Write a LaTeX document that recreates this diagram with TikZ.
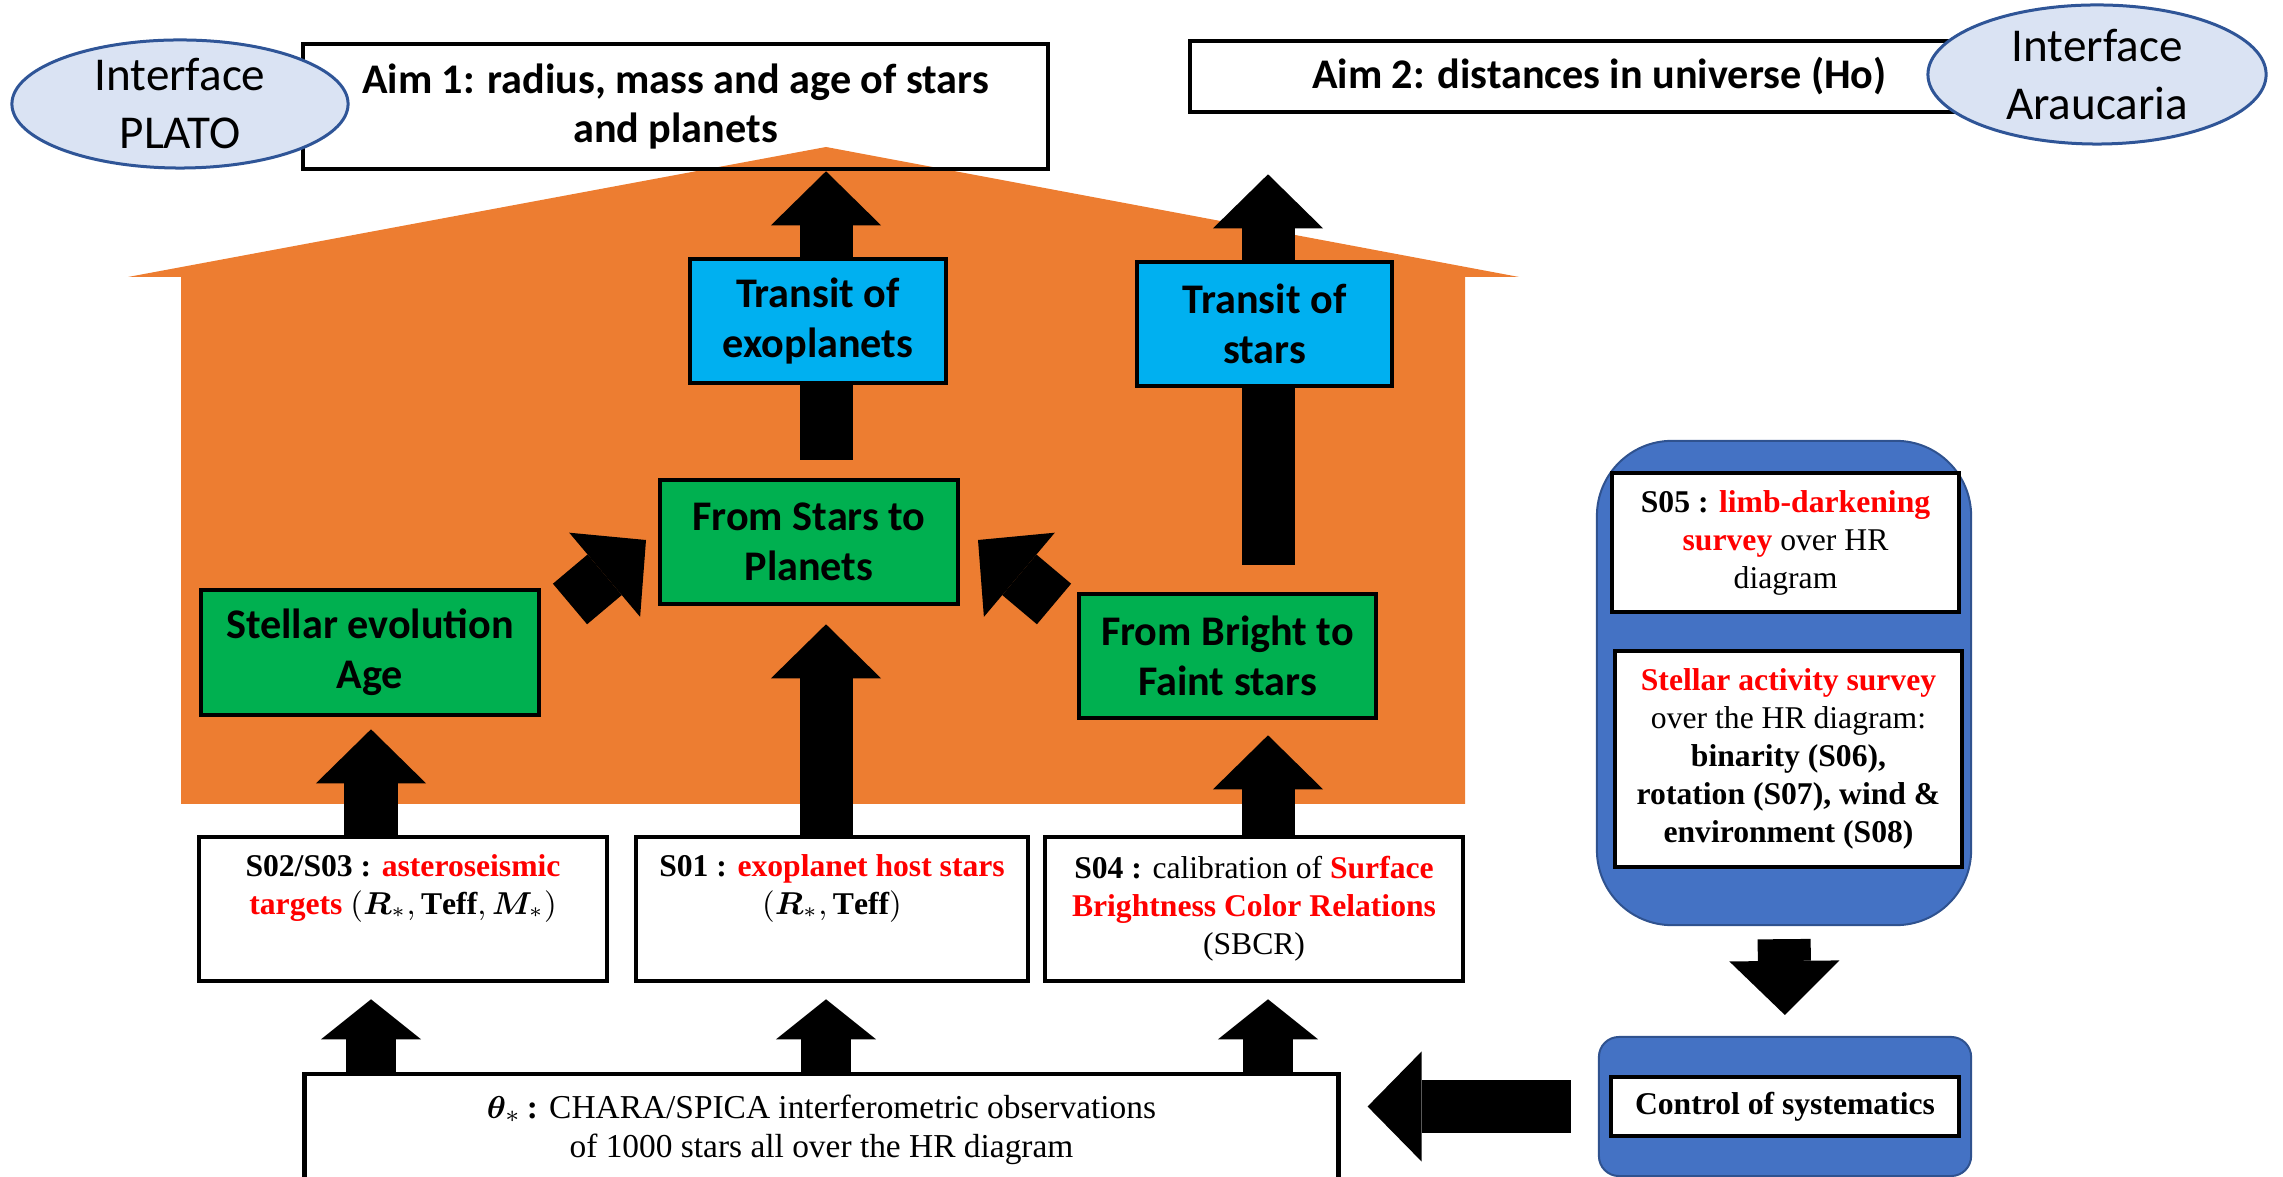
\documentclass[tikz,border=0pt]{standalone}
\usepackage{fontspec}
\setmainfont{Liberation Serif}
\newfontfamily\calibri{Carlito}
\usepackage{bm}
\usepackage{xcolor}
\usetikzlibrary{arrows.meta,shapes.geometric,positioning,calc}

\definecolor{roof}{HTML}{ED7D31}
\definecolor{stepgreen}{HTML}{00B050}
\definecolor{transcyan}{HTML}{00B0F0}
\definecolor{sysfill}{HTML}{4472C4}
\definecolor{sysline}{HTML}{2F528F}
\definecolor{ifacefill}{HTML}{DAE3F3}
\definecolor{ifaceline}{HTML}{2F5597}

\newcommand{\redb}[1]{\textcolor{red}{\textbf{#1}}}

\pgfdeclarelayer{house}
\pgfdeclarelayer{arrows}
\pgfsetlayers{house,arrows,main}

\begin{document}
\begin{tikzpicture}[
  x=0.01cm, y=-0.01cm,
  aimbox/.style={draw, line width=0.045cm, inner sep=0pt, align=center,
                 font=\calibri\bfseries\fontsize{12}{14.2}\selectfont},
  greenbox/.style={aimbox, fill=stepgreen},
  cyanbox/.style={aimbox, fill=transcyan},
  whitebox/.style={draw, fill=white, line width=0.045cm, inner sep=0pt, align=center,
                   font=\fontsize{9}{10.8}\selectfont},
  iface/.style={ellipse, draw=ifaceline, line width=0.03cm, fill=ifacefill, inner sep=0pt},
  ifacetext/.style={align=center, font=\calibri\fontsize{13.4}{16.5}\selectfont},
  blockarr/.style={line width=0.53cm, -{Triangle[length=0.54cm, width=1.1cm, line width=0pt]}},
  lowarr/.style={line width=0.5cm, -{Triangle[length=0.4cm, width=1.0cm, line width=0pt]}}
]
  \useasboundingbox (0,0) rectangle (2283,1177);

  % aims and interfaces
  \node[aimbox, minimum width=7.45cm, minimum height=1.25cm] (aim1) at (675.5,106.5)
    {Aim 1: radius, mass and age of stars\\and planets};
  \node[aimbox, fill=white, minimum width=7.68cm, minimum height=0.71cm] (aim2) at (1574,76.5)
    {\hspace*{0.5cm}Aim 2: distances in universe (Ho)};
  \node[iface, minimum width=3.36cm, minimum height=1.28cm] (plato) at (180,104) {};
  \node[ifacetext] (platotxt) at (plato) {Interface\\PLATO};
  \node[iface, minimum width=3.38cm, minimum height=1.39cm] (arauc) at (2097,74.5) {};
  \node[ifacetext] (arauctxt) at (arauc) {Interface\\Araucaria};

  % inside the house
  \node[cyanbox, minimum width=2.56cm, minimum height=1.24cm] (transexo) at (818,321)
    {Transit of\\exoplanets};
  \node[cyanbox, minimum width=2.55cm, minimum height=1.24cm] (transst) at (1264.5,324)
    {Transit of\\stars};
  \node[greenbox, minimum width=2.98cm, minimum height=1.24cm] (stars) at (809,542)
    {From Stars to\\Planets};
  \node[greenbox, minimum width=3.38cm, minimum height=1.25cm] (stellar) at (370,652.5)
    {Stellar evolution\\Age};
  \node[greenbox, minimum width=2.97cm, minimum height=1.24cm] (bright) at (1227.5,656)
    {From Bright to\\Faint stars};

  % samples
  \node[whitebox, minimum width=4.08cm, minimum height=1.44cm] (s23) at (403,909)
    {\textbf{S02/S03 :} \redb{asteroseismic}\\\redb{targets} $(\bm{R}_{*}, \mathbf{Teff}, \bm{M}_{*})$\\\strut};
  \node[whitebox, minimum width=3.92cm, minimum height=1.44cm] (s01) at (832,909)
    {\textbf{S01 :} \redb{exoplanet host stars}\\$(\bm{R}_{*}, \mathbf{Teff})$\\\strut};
  \node[whitebox, minimum width=4.18cm, minimum height=1.44cm] (s04) at (1254,909)
    {\textbf{S04 :} calibration of \redb{Surface}\\\redb{Brightness Color Relations}\\(SBCR)};
  \node[whitebox, minimum width=10.33cm, minimum height=1.12cm, font=\fontsize{9.5}{11.1}\selectfont]
    (theta) at (821.5,1130)
    {$\bm{\theta}_{*}$\,\textbf{:} CHARA/SPICA interferometric observations\\of 1000 stars all over the HR diagram};

  % systematics
  \node[draw=sysline, fill=sysfill, line width=0.02cm, rounded corners=0.75cm,
        minimum width=3.74cm, minimum height=4.84cm] (surveys) at (1784,683) {};
  \node[whitebox, minimum width=3.47cm, minimum height=1.39cm] (s05) at (1785.5,542.5)
    {\textbf{S05 :} \redb{limb-darkening}\\\redb{survey} over HR\\diagram};
  \node[whitebox, minimum width=3.47cm, minimum height=2.16cm] (activ) at (1788.5,759)
    {\redb{Stellar activity survey}\\over the HR diagram:\\\textbf{binarity (S06),}\\
     \textbf{rotation (S07), wind \&}\\\textbf{environment (S08)}};
  \node[draw=sysline, fill=sysfill, line width=0.02cm, rounded corners=0.2cm,
        minimum width=3.72cm, minimum height=1.39cm] (ctrl) at (1785,1106.5) {};
  \node[whitebox, minimum width=3.48cm, minimum height=0.59cm] (ctrlin) at (ctrl)
    {\textbf{Control of systematics}};

  % house
  \begin{pgfonlayer}{house}
    \fill[roof] (128,277) -- (826,147) -- (1519,277) -- (1465,277) -- (1465,804)
      -- (181,804) -- (181,277) -- cycle;
  \end{pgfonlayer}

  % arrows
  \coordinate (colA) at (371,0);
  \coordinate (colB) at (826,0);
  \coordinate (colC) at (1268,0);
  \coordinate (dl0) at (570,604);
  \coordinate (dl1) at (646,540);
  \coordinate (dr0) at (1054,604);
  \coordinate (dr1) at (978,540);
  \begin{pgfonlayer}{arrows}
    \draw[lowarr, shorten >=0.16cm] (colA |- theta.north) -- (colA |- s23.south);
    \draw[lowarr, shorten >=0.16cm] (colB |- theta.north) -- (colB |- s01.south);
    \draw[lowarr, shorten >=0.16cm] (colC |- theta.north) -- (colC |- s04.south);
    \draw[blockarr, shorten >=0.12cm] (colA |- s23.north) -- (colA |- stellar.south);
    \draw[blockarr, shorten >=0.18cm] (colB |- s01.north) -- (colB |- stars.south);
    \draw[blockarr, shorten >=0.15cm] (colC |- s04.north) -- (colC |- bright.south);
    \draw[blockarr, shorten <=0.18cm] (colB |- stars.north) -- (colB |- aim1.south);
    \draw[blockarr, shorten <=0.27cm, shorten >=0.6cm] (colC |- bright.north) -- (colC |- aim2.south);
    \draw[blockarr] (dl0) -- (dl1);
    \draw[blockarr] (dr0) -- (dr1);
    \draw[blockarr, shorten <=0.13cm, shorten >=0.21cm] (surveys.south) -- (ctrl.north);
    \draw[blockarr, shorten <=0.27cm, shorten >=0.27cm] (ctrl.west) -- (ctrl.west -| theta.east);
  \end{pgfonlayer}
\end{tikzpicture}
\end{document}
